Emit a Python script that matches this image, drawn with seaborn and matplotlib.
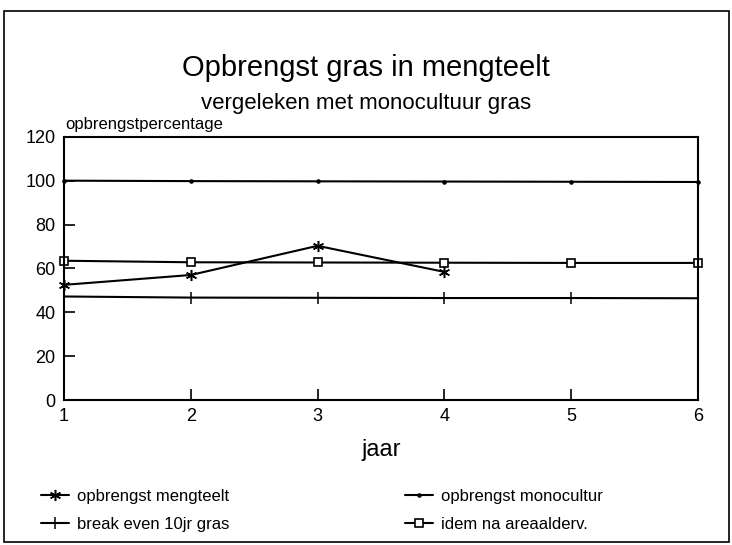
import matplotlib
matplotlib.use("Agg")
import matplotlib.pyplot as plt
import seaborn as sns
import pandas as pd
from matplotlib.patches import Rectangle

sns.set_theme(style="white")
plt.rcParams['font.family'] = ['Liberation Sans Narrow', 'Liberation Sans', 'DejaVu Sans']
plt.rcParams['text.color'] = 'black'
plt.rcParams['axes.labelcolor'] = 'black'
plt.rcParams['xtick.color'] = 'black'
plt.rcParams['ytick.color'] = 'black'

jaar_meng = [1, 2, 3, 4]
opbrengst_mengteelt = [52.5, 57, 70.3, 58.4]
jaar = [1, 2, 3, 4, 5, 6]
opbrengst_monocultur = [100, 99.8, 99.7, 99.6, 99.5, 99.4]
break_even = [47.2, 46.7, 46.6, 46.5, 46.5, 46.4]
idem_areaal = [63.5, 62.8, 62.7, 62.6, 62.5, 62.5]
y_ticks = [0, 20, 40, 60, 80, 100, 120]
x_ticks = [1, 2, 3, 4, 5, 6]

fig = plt.figure(figsize=(7.32, 5.45), dpi=100)
ax = fig.add_axes([0.0874, 0.266, 0.8662, 0.483])

series = [
    ("opbrengst mengteelt", jaar_meng, opbrengst_mengteelt, dict(marker=(6, 2, 0), markersize=8, markeredgewidth=1.1)),
    ("break even 10jr gras", jaar, break_even, dict(marker='|', markersize=9, markeredgewidth=1.1)),
    ("opbrengst monocultur", jaar, opbrengst_monocultur, dict(marker='o', markersize=2.5)),
    ("idem na areaalderv.", jaar, idem_areaal, dict(marker='s', markersize=5.5, markerfacecolor='white', markeredgewidth=1.2)),
]
for name, xs, ys, mk in series:
    df = pd.DataFrame({"jaar": xs, "waarde": ys})
    sns.lineplot(data=df, x="jaar", y="waarde", ax=ax, color='black', linewidth=1.5,
                 label=name, markeredgecolor='black', clip_on=False, **mk)

ax.set_xlim(1, 6)
ax.set_ylim(0, 120)
ax.set_xticks(x_ticks)
ax.set_yticks(y_ticks)
ax.set_xticklabels([str(v) for v in x_ticks], fontsize=13)
ax.set_yticklabels([str(v) for v in y_ticks], fontsize=13)
ax.tick_params(direction='in', length=8, width=1.2, colors='black', bottom=True, left=True, pad=6)
for s in ax.spines.values():
    s.set_color('black')
    s.set_linewidth(1.5)
ax.set_xlabel("jaar", fontsize=17, labelpad=10)
ax.set_ylabel("")

fig.text(0.5, 0.875, "Opbrengst gras in mengteelt", ha='center', va='center', fontsize=21)
fig.text(0.5, 0.81, "vergeleken met monocultuur gras", ha='center', va='center', fontsize=16)
fig.text(0.089, 0.772, "opbrengstpercentage", ha='left', va='center', fontsize=12)

ax.legend(loc='upper left', bbox_to_anchor=(0.035, 0.13), bbox_transform=fig.transFigure,
          ncol=2, frameon=False, fontsize=12, columnspacing=10.5, handlelength=1.7,
          handletextpad=0.5, labelspacing=0.75)

fig.add_artist(Rectangle((0.006, 0.005), 0.99, 0.975, transform=fig.transFigure,
                         fill=False, edgecolor='black', linewidth=1.2))

fig.savefig("out.png", dpi=100)
